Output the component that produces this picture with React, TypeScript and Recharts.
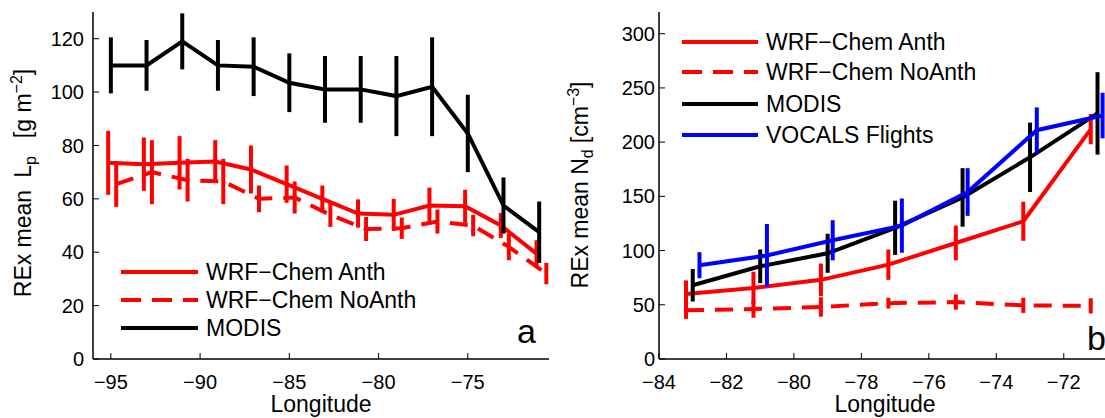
import React from 'react'
import { ComposedChart, ErrorBar, Line, XAxis, YAxis } from 'recharts'

const FONT = '"Liberation Sans", Arial, Helvetica, sans-serif'
const RED = '#ff0000'
const BLUE = '#0000ff'
const BLACK = '#000000'

// panel a: REx mean Lp [g m-2]
const lonModisA = [-95, -93, -91, -89, -87, -85, -83, -81, -79, -77, -75, -73, -71]
const lpModis = [110, 110, 119, 110, 109.5, 103.5, 101, 101, 98.5, 102, 84.5, 57.5, 47.5]
const lpModisErr = [10.5, 9.5, 10.5, 9.5, 11, 11, 12.5, 12.5, 15, 18.5, 14.5, 10.5, 11.5]

const lonAnthA = [-95.15, -93.15, -91.15, -89.15, -87.15, -85.15, -83.15, -81.15, -79.15, -77.15, -75.15, -73.15, -71.15]
const lpAnth = [73.5, 73, 73.5, 74, 71, 65.5, 60, 54.5, 54, 57.5, 57.2, 50, 39.5]
const lpAnthErr = [12, 10, 10, 8, 9, 7, 5, 5.3, 6, 6.7, 6.2, 4.7, 5]

const lonNoAnthA = [-94.7, -92.7, -90.7, -88.7, -86.7, -84.7, -82.7, -80.7, -78.7, -76.7, -74.7, -72.7, -70.6]
const lpNoAnth = [65.5, 70, 67, 66.5, 60, 60.5, 54, 48.7, 49, 51.5, 50, 42, 32]
const lpNoAnthErr = [8.5, 12, 8, 8.5, 5, 6, 4.5, 4.5, 4, 4.5, 4, 5, 4]

const xTicksA = [-95, -90, -85, -80, -75]
const yTicksA = [0, 20, 40, 60, 80, 100, 120]

// panel b: REx mean Nd [cm-3]
const lonModisB = [-83, -81, -79, -77, -75, -73, -71]
const ndModis = [68, 85.5, 97.5, 121, 149, 186, 226.5]
const ndModisErr = [15, 15.5, 18, 25, 27, 32, 38]

const lonVocals = [-82.8, -80.8, -78.85, -76.8, -74.85, -72.8, -70.85]
const ndVocals = [86.5, 95.5, 109.5, 123, 154, 211, 224.5]
const ndVocalsErr = [12, 29, 18.5, 25, 22, 21, 21]

const lonAnthB = [-83.2, -81.2, -79.2, -77.2, -75.2, -73.2, -71.2]
const ndAnth = [60, 65.5, 73, 87, 107, 127, 212]
const ndAnthErr = [12.5, 15, 15, 14, 16, 18, 14]

const lonNoAnthB = [-83.2, -81.2, -79.2, -77.2, -75.2, -73.2, -71.2]
const ndNoAnth = [45, 46, 48, 51.5, 52.5, 49.5, 49]
const ndNoAnthErr = [8, 8, 9, 5, 7, 7, 7]

const xTicksB = [-84, -82, -80, -78, -76, -74, -72]
const yTicksB = [0, 50, 100, 150, 200, 250, 300]

const zip = (xs: number[], ys: number[], es: number[]) =>
  xs.map((x, i) => ({ x, y: ys[i], e: es[i] }))

const fmt = (v: number) => (v < 0 ? `\u2212${Math.abs(v)}` : `${v}`)
const noTick = () => <g />

const tickStyle = { fill: BLACK, fontSize: 20, fontFamily: FONT }
const axisLine = { stroke: BLACK, strokeWidth: 1.5 }
const tickLine = { stroke: BLACK, strokeWidth: 1 }

type Series = { data: { x: number; y: number; e: number }[]; color: string; dashed?: boolean }

function Panel(props: {
  series: Series[]
  xDomain: [number, number]
  yDomain: [number, number]
  xTicks: number[]
  yTicks: number[]
  margin: { top: number; right: number; bottom: number; left: number }
  yTickMargin: number
}) {
  const { series, xDomain, yDomain, xTicks, yTicks, margin, yTickMargin } = props
  return (
    <ComposedChart width={560} height={418} margin={margin}>
      <XAxis
        xAxisId="b"
        dataKey="x"
        type="number"
        domain={xDomain}
        ticks={xTicks}
        interval={0}
        tickFormatter={fmt}
        tickSize={-6}
        tickMargin={22}
        height={30}
        axisLine={axisLine}
        tickLine={tickLine}
        tick={tickStyle}
        allowDataOverflow
      />
      <XAxis
        xAxisId="t"
        orientation="top"
        type="number"
        domain={xDomain}
        ticks={xTicks}
        interval={0}
        tickSize={-6}
        height={0}
        axisLine={axisLine}
        tickLine={tickLine}
        tick={noTick}
        allowDataOverflow
      />
      <YAxis
        yAxisId="l"
        type="number"
        domain={yDomain}
        ticks={yTicks}
        interval={0}
        tickSize={-6}
        tickMargin={yTickMargin}
        width={60}
        axisLine={axisLine}
        tickLine={tickLine}
        tick={tickStyle}
        allowDataOverflow
      />
      <YAxis
        yAxisId="r"
        orientation="right"
        type="number"
        domain={yDomain}
        ticks={yTicks}
        interval={0}
        tickSize={-6}
        width={0}
        axisLine={axisLine}
        tickLine={tickLine}
        tick={noTick}
        allowDataOverflow
      />
      {series.map((s, i) => (
        <Line
          key={i}
          xAxisId="b"
          yAxisId="l"
          data={s.data}
          dataKey="y"
          type="linear"
          stroke={s.color}
          strokeWidth={4}
          strokeDasharray={s.dashed ? '18 11' : undefined}
          dot={false}
          activeDot={false}
          isAnimationActive={false}
        >
          <ErrorBar dataKey="e" direction="y" width={0} stroke={s.color} strokeWidth={4} isAnimationActive={false} />
        </Line>
      ))}
    </ComposedChart>
  )
}

function LegendRows(props: { x1: number; x2: number; tx: number; rows: { y: number; label: string; color: string; dashed?: boolean }[] }) {
  return (
    <g>
      {props.rows.map((r, i) => (
        <g key={i}>
          <line x1={props.x1} x2={props.x2} y1={r.y} y2={r.y} stroke={r.color} strokeWidth={4} strokeDasharray={r.dashed ? '20 11' : undefined} />
          <text x={props.tx} y={r.y + 8} fontSize={23} fontFamily={FONT} fill={BLACK}>
            {r.label}
          </text>
        </g>
      ))}
    </g>
  )
}

export default function App() {
  const seriesA: Series[] = [
    { data: zip(lonAnthA, lpAnth, lpAnthErr), color: RED },
    { data: zip(lonNoAnthA, lpNoAnth, lpNoAnthErr), color: RED, dashed: true },
    { data: zip(lonModisA, lpModis, lpModisErr), color: BLACK },
  ]
  const seriesB: Series[] = [
    { data: zip(lonAnthB, ndAnth, ndAnthErr), color: RED },
    { data: zip(lonNoAnthB, ndNoAnth, ndNoAnthErr), color: RED, dashed: true },
    { data: zip(lonModisB, ndModis, ndModisErr), color: BLACK },
    { data: zip(lonVocals, ndVocals, ndVocalsErr), color: BLUE },
  ]
  return (
    <div style={{ position: 'fixed', left: 0, top: 0, width: 1105, height: 418, overflow: 'hidden', background: '#fff', fontFamily: FONT }}>
      <div style={{ position: 'absolute', left: 0, top: 0 }}>
        <Panel
          series={seriesA}
          xDomain={[-96, -70.45]}
          yDomain={[0, 130]}
          xTicks={xTicksA}
          yTicks={yTicksA}
          margin={{ top: 12, right: 11, bottom: 29, left: 33 }}
          yTickMargin={15}
        />
      </div>
      <div style={{ position: 'absolute', left: 560, top: 0 }}>
        <Panel
          series={seriesB}
          xDomain={[-84, -70.6]}
          yDomain={[0, 320]}
          xTicks={xTicksB}
          yTicks={yTicksB}
          margin={{ top: 12, right: 9, bottom: 29, left: 39 }}
          yTickMargin={10}
        />
      </div>
      <svg width={1105} height={418} style={{ position: 'absolute', left: 0, top: 0, pointerEvents: 'none' }}>
        <text transform="translate(31,183) rotate(-90)" textAnchor="middle" fontSize={23} fontFamily={FONT} fill={BLACK}>
          <tspan>REx mean</tspan>
          <tspan dx={12}>L</tspan>
          <tspan fontSize={16} dy={5}>p</tspan>
          <tspan dy={-5} dx={18}>[g m</tspan>
          <tspan fontSize={16} dy={-9}>{'\u22122'}</tspan>
          <tspan dy={9}>]</tspan>
        </text>
        <text transform="translate(588,185) rotate(-90)" textAnchor="middle" fontSize={23} fontFamily={FONT} fill={BLACK}>
          <tspan>REx mean N</tspan>
          <tspan fontSize={16} dy={5}>d</tspan>
          <tspan dy={-5} dx={6}>[cm</tspan>
          <tspan fontSize={16} dy={-9}>{'\u22123'}</tspan>
          <tspan dy={9}>]</tspan>
        </text>
        <text x={321} y={412} textAnchor="middle" fontSize={23} fontFamily={FONT} fill={BLACK}>Longitude</text>
        <text x={885} y={412} textAnchor="middle" fontSize={23} fontFamily={FONT} fill={BLACK}>Longitude</text>
        <text x={517} y={343} fontSize={34} fontFamily={FONT} fill={BLACK}>a</text>
        <text x={1087} y={350} fontSize={34} fontFamily={FONT} fill={BLACK}>b</text>
        <LegendRows
          x1={121}
          x2={198}
          tx={206}
          rows={[
            { y: 272, label: 'WRF\u2212Chem Anth', color: RED },
            { y: 300, label: 'WRF\u2212Chem NoAnth', color: RED, dashed: true },
            { y: 328, label: 'MODIS', color: BLACK },
          ]}
        />
        <LegendRows
          x1={682}
          x2={758}
          tx={766}
          rows={[
            { y: 42, label: 'WRF\u2212Chem Anth', color: RED },
            { y: 72, label: 'WRF\u2212Chem NoAnth', color: RED, dashed: true },
            { y: 104, label: 'MODIS', color: BLACK },
            { y: 135, label: 'VOCALS Flights', color: BLUE },
          ]}
        />
      </svg>
    </div>
  )
}
